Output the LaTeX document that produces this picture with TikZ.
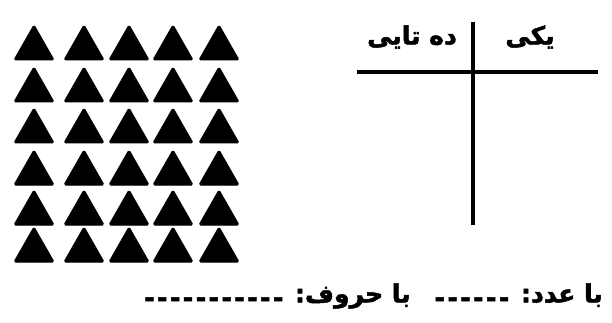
\documentclass[tikz,border=0pt]{standalone}
\usepackage{fontspec}
\newfontfamily\fafont[Script=Arabic, BoldFeatures={FakeBold=2}]{DejaVu Sans}
\TeXXeTstate=1
\newcommand\dashrun[1]{\raisebox{-4pt}{\addfontfeature{LetterSpace=10}#1}}
\begin{document}
\begin{tikzpicture}[x=1pt, y=-1pt,
    tri/.style={fill=black, draw=black, line width=1pt, rounded corners=1.5pt, line join=round},
    rule/.style={line width=4pt},
    lbl/.style={font=\fafont\bfseries\fontsize{25}{28}\selectfont, inner sep=0pt}]
    \useasboundingbox (0,0) rectangle (612,323);
    % triangles, 5 columns x 6 rows
    \foreach \cx in {34,84,129,173,219}
      \foreach \by in {60,102,143,185,225,262}
        \draw[tri] (\cx-20,\by) -- (\cx+20,\by) -- (\cx,\by-35) -- cycle;
    % T chart
    \coordinate (hl) at (357,72);
    \coordinate (hr) at (598,72);
    \coordinate (vt) at (473,22);
    \coordinate (vb) at (473,225);
    \draw[rule] (hl) -- (hr);
    \draw[rule] (vt) -- (vb);
    \node[lbl] (ones) at (530,37) {یکی};
    \node[lbl] (tens) at (412,37) {\beginR ده تایی\endR};
    % answer line
    \node[lbl, anchor=east] (ans) at (603,296)
      {\beginR با عدد: \dashrun{------}\hspace{24pt}با حروف: \dashrun{-----------}\endR};
\end{tikzpicture}
\end{document}
